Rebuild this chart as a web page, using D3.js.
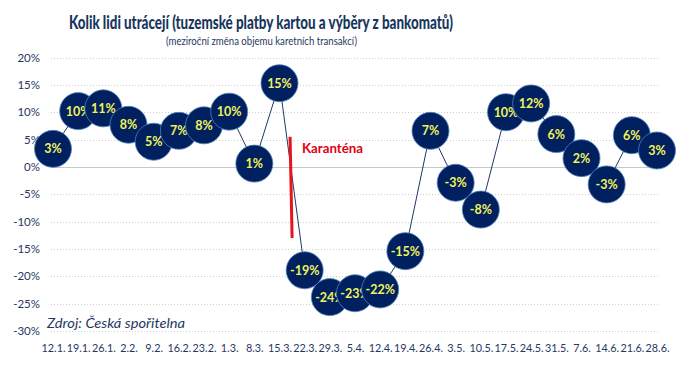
<!DOCTYPE html>
<html>
<head>
<meta charset="utf-8">
<script src="https://cdn.jsdelivr.net/npm/d3@7"></script>
<style>
  body { margin: 0; background: #fff; }
  svg { font-family: Lato, "Open Sans", sans-serif; }
</style>
</head>
<body>
<script>
const WIDTH = 684;
const HEIGHT = 372;
const NAVY = "#1f3864";
const DOT = "#002060";

const weeks = ["12.1.", "19.1.", "26.1.", "2.2.", "9.2.", "16.2.", "23.2.", "1.3.", "8.3.", "15.3.",
  "22.3.", "29.3.", "5.4.", "12.4.", "19.4.", "26.4.", "3.5.", "10.5.", "17.5.", "24.5.",
  "31.5.", "7.6.", "14.6.", "21.6.", "28.6."];
const change = [3.3, 10.2, 10.7, 7.7, 4.6, 6.6, 7.6, 10.1, 0.6, 15.3,
  -18.9, -23.8, -23.1, -22.4, -15.4, 6.6, -2.9, -7.8, 10.0, 11.6,
  6.0, 1.6, -3.2, 5.8, 3.0];
const yTicks = [20, 15, 10, 5, 0, -5, -10, -15, -20, -25, -30];
// quarantine marker sits between 15.3. and 22.3.
const quarantine = { at: 9.5, from: 5.5, to: -13 };

const svg = d3.select("body").append("svg")
  .attr("width", WIDTH)
  .attr("height", HEIGHT);

const x = d3.scalePoint().domain(d3.range(weeks.length)).range([53, 657]);
const y = d3.scaleLinear().domain([-30, 20]).range([331, 57.5]);
// plain hyphen, not the unicode minus d3.format gives
const fmt = (v) => Math.round(v).toString() + "%";

// title
svg.append("text")
  .attr("x", 69).attr("y", 29)
  .attr("textLength", 384).attr("lengthAdjust", "spacingAndGlyphs")
  .attr("font-size", 19).attr("font-weight", "900")
  .attr("fill", "#17365d")
  .text("Kolik lidi utrácejí (tuzemské platby kartou a výběry z bankomatů)");

svg.append("text")
  .attr("x", 166).attr("y", 45)
  .attr("textLength", 191).attr("lengthAdjust", "spacingAndGlyphs")
  .attr("font-size", 12)
  .attr("fill", NAVY)
  .text("(meziroční změna objemu karetních transakcí)");

// grid
const grid = svg.append("g");
grid.selectAll("line")
  .data(yTicks)
  .join("line")
  .attr("x1", 51).attr("x2", 658)
  .attr("y1", (d) => Math.round(y(d)) + 0.5)
  .attr("y2", (d) => Math.round(y(d)) + 0.5)
  .attr("stroke", (d) => (d === 0 ? "#c8c8c8" : "#cfcfcf"))
  .attr("stroke-width", 1)
  .attr("stroke-dasharray", (d) => (d === 0 ? null : "1,2"));

// y axis labels
const yAxis = svg.append("g")
  .attr("transform", "translate(40,0)")
  .call(d3.axisLeft(y).tickValues(yTicks).tickFormat((d) => d + "%").tickSize(0).tickPadding(0));
yAxis.select(".domain").remove();
yAxis.selectAll("text")
  .attr("font-size", 11.5)
  .attr("fill", NAVY)
  .attr("font-family", "Lato, sans-serif");

// x axis labels
const xAxis = svg.append("g")
  .attr("transform", "translate(0,340)")
  .call(d3.axisBottom(x).tickFormat((i) => weeks[i]).tickSize(0).tickPadding(4));
xAxis.select(".domain").remove();
xAxis.selectAll("text")
  .attr("font-size", 10.8)
  .attr("fill", NAVY)
  .attr("font-family", "Lato, sans-serif");

// source
svg.append("text")
  .attr("x", 47).attr("y", 328)
  .attr("textLength", 138).attr("lengthAdjust", "spacingAndGlyphs")
  .attr("font-size", 14).attr("font-style", "italic")
  .attr("fill", NAVY)
  .text("Zdroj: Česká spořitelna");

// connecting line
const line = d3.line()
  .x((d, i) => x(i))
  .y((d) => y(d));

svg.append("path")
  .datum(change)
  .attr("d", line)
  .attr("fill", "none")
  .attr("stroke", "#1f3864")
  .attr("stroke-width", 1);

// quarantine marker
svg.append("line")
  .attr("x1", x(9) + (x(10) - x(9)) * (quarantine.at - 9) - 2)
  .attr("x2", x(9) + (x(10) - x(9)) * (quarantine.at - 9))
  .attr("y1", y(quarantine.from))
  .attr("y2", y(quarantine.to))
  .attr("stroke", "#e8141c")
  .attr("stroke-width", 3);

svg.append("text")
  .attr("x", 302).attr("y", 153)
  .attr("textLength", 61).attr("lengthAdjust", "spacingAndGlyphs")
  .attr("font-size", 13).attr("font-weight", "bold")
  .attr("fill", "#e00010")
  .text("Karanténa");

// bubbles
const dots = svg.append("g")
  .selectAll("g")
  .data(change)
  .join("g")
  .attr("transform", (d, i) => `translate(${x(i)},${y(d)})`);

dots.append("circle")
  .attr("r", 18.5)
  .attr("fill", DOT)
  .attr("stroke", "#4f81bd")
  .attr("stroke-width", 0.8);

dots.append("text")
  .attr("text-anchor", "middle")
  .attr("dy", "0.36em")
  .attr("font-size", 12.5)
  .attr("font-weight", "bold")
  .attr("fill", "#f2f25a")
  .text((d) => fmt(d));
</script>
</body>
</html>
